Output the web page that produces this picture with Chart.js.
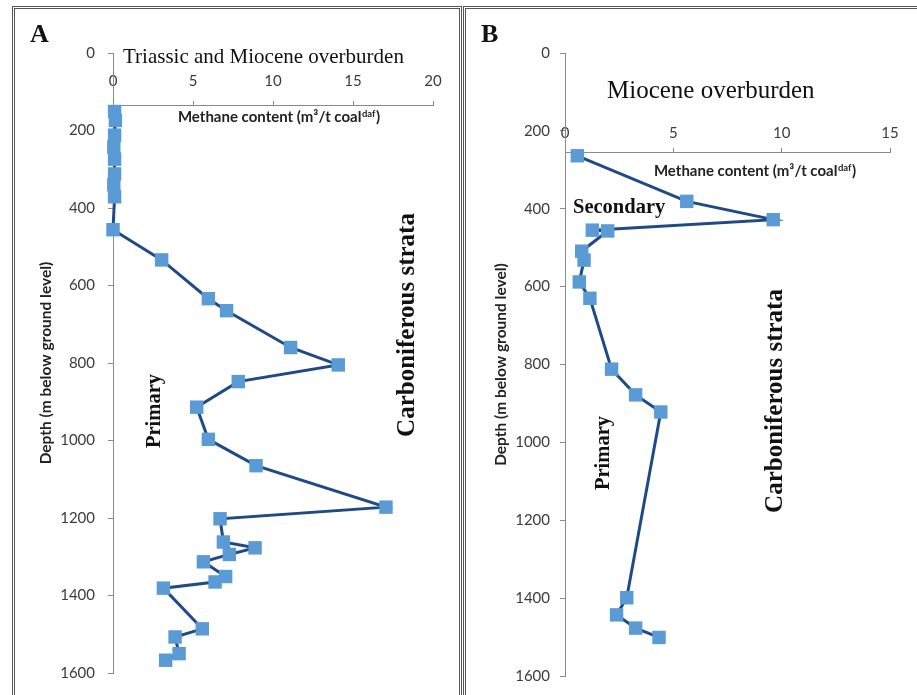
<!DOCTYPE html>
<html>
<head>
<meta charset="utf-8">
<script src="https://cdn.jsdelivr.net/npm/chart.js@4.4.0/dist/chart.umd.min.js"></script>
<style>
  html, body { margin: 0; padding: 0; background: #fff; width: 917px; height: 695px; overflow: hidden; }
  .frame { position: absolute; border: 3px double #555; border-bottom: none; }
  #frameA { left: 12px; top: 6px; width: 444px; height: 720px; }
  #frameB { left: 463px; top: 6px; width: 500px; height: 720px; }
  .wrap { position: absolute; top: 0; height: 695px; z-index: 2; }
  #wrapA { left: 0; width: 461px; }
  #wrapB { left: 462px; width: 455px; }
</style>
</head>
<body>
<div class="frame" id="frameA"></div>
<div class="frame" id="frameB"></div>
<div class="wrap" id="wrapA"><canvas id="chartA" width="461" height="695"></canvas></div>
<div class="wrap" id="wrapB"><canvas id="chartB" width="455" height="695"></canvas></div>
<script>
// ---- Data ----
// Panel A: Triassic and Miocene overburden
const depthA   = [151, 174, 212, 243, 274, 312, 340, 371, 456, 534, 634, 665, 760, 805, 848, 914, 997, 1065, 1172, 1202, 1262, 1277, 1294, 1313, 1351, 1365, 1381, 1486, 1507, 1550, 1567];
const methaneA = [0.1, 0.15, 0.1, 0.05, 0.1, 0.1, 0.05, 0.1, 0, 3.04, 5.96, 7.1, 11.1, 14.08, 7.83, 5.23, 5.96, 8.94, 17.06, 6.69, 6.9, 8.88, 7.27, 5.65, 7.04, 6.38, 3.15, 5.58, 3.88, 4.13, 3.29];
// Panel B: Miocene overburden
const depthB   = [264, 381, 428, 455, 457, 509, 532, 588, 630, 812, 878, 922, 1399, 1443, 1477, 1501];
const methaneB = [0.57, 5.62, 9.61, 1.26, 1.97, 0.77, 0.88, 0.66, 1.15, 2.15, 3.26, 4.42, 2.85, 2.38, 3.26, 4.34];

// Axis ticks
const xTicksA = [0, 5, 10, 15, 20];
const xTicksB = [0, 5, 10, 15];
const yTicks  = [0, 200, 400, 600, 800, 1000, 1200, 1400, 1600];
// Depth at which the methane axis crosses the depth axis
const crossA = 135;
const crossB = 256;

// Texts
const yTitle = 'Depth (m below ground level)';
const xTitleMain = 'Methane content (m\u00B3/t coal';
const xTitleSup = 'daf';
const xTitleEnd = ')';

const LINE = '#1F4A86';
const MARK = '#5B9BD5';
const TICK_FONT = { family: 'Lato', size: 15 };
const TICK_COLOR = '#3c3c3c';
const AXIS_COLOR = '#8a8a8a';
const SERIF = '"Liberation Serif", "Times New Roman", serif';

const notesPlugin = {
  id: 'notes',
  afterDraw(chart) {
    const notes = chart.options.plugins.notes || [];
    const ctx = chart.ctx;
    ctx.save();
    for (const n of notes) {
      ctx.save();
      ctx.fillStyle = n.color || '#111';
      if (n.kind === 'xtitle') {
        const main = 'bold 15px Lato';
        const sup = 'bold 9.5px Lato';
        ctx.font = main; const w1 = ctx.measureText(xTitleMain).width;
        const w3 = ctx.measureText(xTitleEnd).width;
        ctx.font = sup; const w2 = ctx.measureText(xTitleSup).width;
        let x0 = n.x - (w1 + w2 + w3 + 1) / 2;
        ctx.textBaseline = 'alphabetic'; ctx.textAlign = 'left';
        ctx.fillStyle = '#222';
        ctx.font = main; ctx.fillText(xTitleMain, x0, n.y);
        ctx.font = sup; ctx.fillText(xTitleSup, x0 + w1 + 0.5, n.y - 5.5);
        ctx.font = main; ctx.fillText(xTitleEnd, x0 + w1 + w2 + 1, n.y);
      } else {
        ctx.font = n.font;
        ctx.translate(n.x, n.y);
        if (n.rot) ctx.rotate(n.rot);
        ctx.textAlign = n.align || 'left';
        ctx.textBaseline = n.baseline || 'alphabetic';
        ctx.fillText(n.text, 0, 0);
      }
      ctx.restore();
    }
    ctx.restore();
  }
};

const plain = (v) => String(v);

function makeChart(id, depth, methane, xTicks, cfg) {
  const pts = depth.map((d, i) => ({ x: methane[i], y: d }));
  return new Chart(document.getElementById(id), {
    type: 'scatter',
    data: {
      datasets: [{
        data: pts,
        showLine: true,
        borderColor: LINE,
        borderWidth: 3,
        backgroundColor: MARK,
        pointBackgroundColor: MARK,
        pointBorderWidth: 0,
        pointStyle: 'rect',
        pointRadius: 9.5,
        pointHoverRadius: 9.5,
        tension: 0,
        clip: false
      }]
    },
    options: {
      responsive: false,
      animation: false,
      events: [],
      layout: { padding: { left: 0, top: 53, right: cfg.padRight, bottom: 17 } },
      plugins: {
        legend: { display: false },
        tooltip: { enabled: false },
        notes: cfg.notes
      },
      scales: {
        x: {
          type: 'linear',
          position: { y: cfg.cross },
          min: xTicks[0],
          max: xTicks[xTicks.length - 1],
          ticks: { stepSize: xTicks[1] - xTicks[0], padding: cfg.xTickPad, font: TICK_FONT, color: TICK_COLOR, maxRotation: 0, autoSkip: false, callback: plain },
          grid: { drawOnChartArea: false, drawTicks: true, tickLength: -5, color: AXIS_COLOR },
          border: { color: AXIS_COLOR, width: 1 }
        },
        y: {
          type: 'linear',
          position: 'left',
          reverse: true,
          min: yTicks[0],
          max: yTicks[yTicks.length - 1],
          ticks: { stepSize: yTicks[1] - yTicks[0], padding: cfg.yTickPad, font: TICK_FONT, color: TICK_COLOR, callback: plain },
          grid: { drawOnChartArea: false, drawTicks: true, tickLength: 5, color: AXIS_COLOR },
          border: { color: AXIS_COLOR, width: 1 },
          title: { display: true, text: yTitle, color: '#222', font: { family: 'Lato', weight: 'bold', size: 15.5 }, padding: { top: cfg.yTitlePad, bottom: 0 } },
          afterFit: (s) => { s.width = cfg.yWidth; }
        }
      }
    },
    plugins: [notesPlugin]
  });
}

makeChart('chartA', depthA, methaneA, xTicksA, {
  cross: crossA, padRight: 28, yWidth: 113, yTickPad: 13, xTickPad: -28, yTitlePad: 37,
  notes: [
    { text: 'A', x: 30, y: 42, font: 'bold 26px ' + SERIF },
    { text: 'Triassic and Miocene overburden', x: 123, y: 63, font: '21px ' + SERIF },
    { kind: 'xtitle', x: 279, y: 122 },
    { text: 'Primary', x: 155, y: 411, rot: -Math.PI / 2, align: 'center', baseline: 'middle', font: 'bold 20.5px ' + SERIF },
    { text: 'Carboniferous strata', x: 408, y: 325, rot: -Math.PI / 2, align: 'center', baseline: 'middle', font: 'bold 25px ' + SERIF }
  ]
});

makeChart('chartB', depthB, methaneB, xTicksB, {
  cross: crossB, padRight: 27, yWidth: 103, yTickPad: 10, xTickPad: -24, yTitlePad: 30,
  notes: [
    { text: 'B', x: 19, y: 42, font: 'bold 26px ' + SERIF },
    { text: 'Miocene overburden', x: 145, y: 98, font: '25px ' + SERIF },
    { kind: 'xtitle', x: 293, y: 176 },
    { text: 'Secondary', x: 111, y: 213, font: 'bold 20.5px ' + SERIF },
    { text: 'Primary', x: 142, y: 453, rot: -Math.PI / 2, align: 'center', baseline: 'middle', font: 'bold 20.5px ' + SERIF },
    { text: 'Carboniferous strata', x: 314, y: 401, rot: -Math.PI / 2, align: 'center', baseline: 'middle', font: 'bold 25px ' + SERIF }
  ]
});
</script>
</body>
</html>
